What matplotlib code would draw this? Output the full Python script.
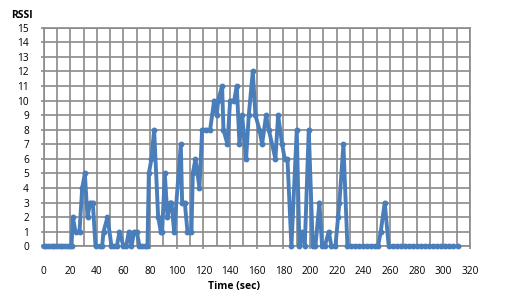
import matplotlib
matplotlib.use("Agg")
import matplotlib.pyplot as plt

# --- data ---
time_sec = [0, 2, 4, 6, 8, 10, 12, 14, 16, 18, 20, 21,
            22, 24, 27, 29, 31, 33, 35, 37, 39, 42, 44, 45, 48, 51, 53, 55,
            57, 60, 62, 64, 66, 68, 70, 72, 74, 76, 78,
            79, 81, 83, 86, 88, 89, 91, 93, 95, 96, 98, 103, 104, 106, 108,
            111, 112, 114, 117, 119, 122, 125, 128, 130, 131, 134, 135, 138,
            140, 143, 145, 147, 149, 152, 154, 157, 159, 162, 164, 167, 169,
            174, 176, 179, 181, 183, 186, 190, 192, 194, 196, 199, 202, 204,
            207, 209, 211, 214, 216, 219, 221, 222, 225, 228, 231, 234, 237,
            240, 243, 246, 249, 251, 253, 256, 259, 262, 265, 268, 271, 274,
            277, 280, 283, 286, 289, 292, 295, 298, 301, 304, 307, 311]
rssi = [0, 0, 0, 0, 0, 0, 0, 0, 0, 0, 0, 0,
        2, 1, 1, 4, 5, 2, 3, 3, 0, 0, 0, 1, 2, 0, 0, 0,
        1, 0, 0, 1, 0, 1, 1, 0, 0, 0, 0,
        5, 6, 8, 2, 1, 1, 5, 2, 3, 3, 1, 7, 3, 3, 1,
        1, 5, 6, 4, 8, 8, 8, 10, 9, 10, 11, 8, 7,
        10, 10, 11, 7, 9, 6, 9, 12, 9, 8, 7, 9, 8,
        6, 9, 7, 6, 6, 0, 8, 0, 1, 0, 8, 0, 0,
        3, 0, 0, 1, 0, 0, 2, 3, 7, 0, 0, 0, 0,
        0, 0, 0, 0, 0, 1, 3, 0, 0, 0, 0, 0, 0,
        0, 0, 0, 0, 0, 0, 0, 0, 0, 0, 0, 0]

x_ticks = list(range(0, 321, 20))
y_ticks = list(range(0, 16))

plt.rcParams['font.family'] = ['Open Sans', 'DejaVu Sans']

fig = plt.figure(figsize=(5.25, 3.02), dpi=100)
ax = fig.add_axes([0.0829, 0.1844, 0.8124, 0.7238])

grid_col = '#8a8a8a'
ax.plot(time_sec, rssi, color='#4A7EBB', linewidth=2.8, marker='o',
        markersize=3.2, solid_joinstyle='round', zorder=3, clip_on=False)

ax.set_xlim(0, 320)
ax.set_ylim(0, 15)
ax.set_xticks(x_ticks)
ax.set_xticks(range(0, 321, 10), minor=True)
ax.set_yticks(y_ticks)
ax.grid(True, which='both', color=grid_col, linewidth=1.2)
ax.set_axisbelow(True)
for s in ax.spines.values():
    s.set_color(grid_col)
    s.set_linewidth(1.2)

ax.tick_params(axis='both', which='major', direction='out', length=2.5,
               width=1.2, color=grid_col, labelsize=7.3)
ax.tick_params(axis='x', which='major', pad=12)
ax.tick_params(axis='y', which='major', pad=8)
ax.tick_params(axis='x', which='minor', length=0)

fig.text(22 / 525, 1 - 16 / 302, 'RSSI', fontsize=7.5, fontweight='bold',
         ha='center', va='center')
fig.text(233.5 / 525, 1 - 287 / 302, 'Time (sec)', fontsize=7.5,
         fontweight='bold', ha='center', va='center')

fig.savefig('out.png', dpi=100)
